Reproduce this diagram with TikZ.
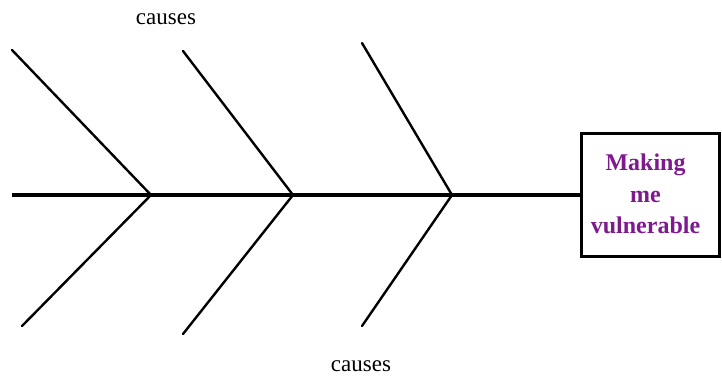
\documentclass[tikz,border=0pt]{standalone}
\usepackage{fontspec}
\setmainfont{Liberation Serif}
\definecolor{labelpurple}{HTML}{7E1A8E}
\begin{document}
\begin{tikzpicture}[x=1pt,y=-1pt,
  bone/.style={line width=2.4pt,line cap=round},
  spine/.style={line width=4pt},
  effectbox/.style={draw,line width=2.6pt,minimum width=138pt,minimum height=123pt,inner sep=0pt},
  effecttext/.style={font=\bfseries\fontsize{24}{31.5}\selectfont,text=labelpurple,align=center,inner sep=0pt},
  causelabel/.style={font=\fontsize{23}{25}\selectfont,inner sep=0pt}]
\useasboundingbox (0,0) rectangle (722,376);
\coordinate (tail) at (12,195);
\coordinate (j1) at (151,195);
\coordinate (j2) at (293,195);
\coordinate (j3) at (452,195);
\coordinate (u1) at (12,50);
\coordinate (l1) at (22,326);
\coordinate (u2) at (183,51);
\coordinate (l2) at (183,334);
\coordinate (u3) at (362,43);
\coordinate (l3) at (362,326);
\node[effectbox] (effect) at (650.5,195) {};
\node[effecttext] (effectlabel) at ([xshift=-5pt,yshift=1pt]effect.center) {Making\\me\\vulnerable};
\draw[spine] (tail) -- (effect.west);
\draw[bone] (u1) -- (j1) -- (l1);
\draw[bone] (u2) -- (j2) -- (l2);
\draw[bone] (u3) -- (j3) -- (l3);
\node[causelabel] (ctop) at (166,19) {causes};
\node[causelabel] (cbot) at (361,366) {causes};
\end{tikzpicture}
\end{document}
